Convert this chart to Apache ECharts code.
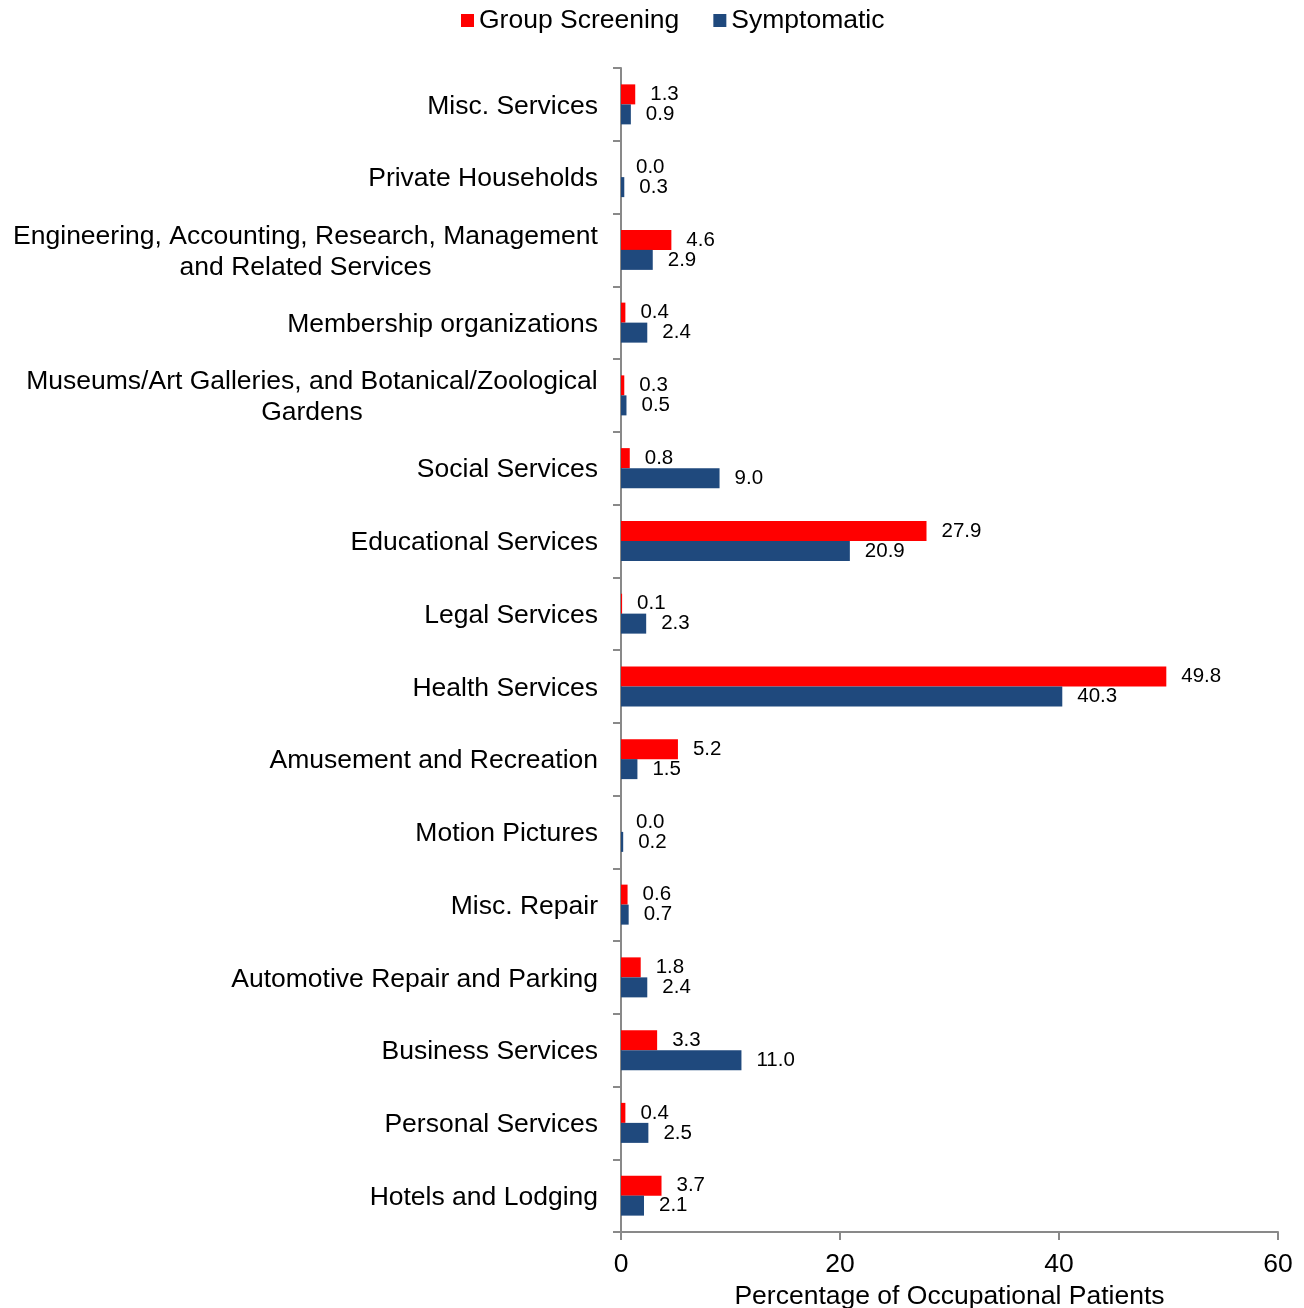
<!DOCTYPE html>
<html><head><meta charset="utf-8">
<script src="https://cdn.jsdelivr.net/npm/echarts@6/dist/echarts.min.js"></script>
<style>html,body{margin:0;padding:0;background:#fff}#c{width:1304px;height:1308px}</style>
</head><body><div id="c"></div>
<script>
// bottom to top
const categories = [
  'Hotels and Lodging',
  'Personal Services',
  'Business Services',
  'Automotive Repair and Parking',
  'Misc. Repair',
  'Motion Pictures',
  'Amusement and Recreation',
  'Health Services',
  'Legal Services',
  'Educational Services',
  'Social Services',
  'Museums/Art Galleries, and Botanical/Zoological Gardens',
  'Membership organizations',
  'Engineering, Accounting, Research, Management and Related Services',
  'Private Households',
  'Misc. Services'
];
const groupScreening = [3.7, 0.4, 3.3, 1.8, 0.6, 0.0, 5.2, 49.8, 0.1, 27.9, 0.8, 0.3, 0.4, 4.6, 0.0, 1.3];
const symptomatic    = [2.1, 2.5, 11.0, 2.4, 0.7, 0.2, 1.5, 40.3, 2.3, 20.9, 9.0, 0.5, 2.4, 2.9, 0.3, 0.9];
const xTicks = [0, 20, 40, 60];

const font = 'Liberation Sans, Arial, sans-serif';
const catSize = 26.5;
const wrapLines = {
  'Museums/Art Galleries, and Botanical/Zoological Gardens': ['Museums/Art Galleries, and Botanical/Zoological', 'Gardens'],
  'Engineering, Accounting, Research, Management and Related Services': ['Engineering, Accounting, Research, Management', 'and Related Services']
};
const ctx = document.createElement('canvas').getContext('2d');
ctx.font = catSize + 'px ' + font;
const rich = {};
const wrapped = {};
Object.keys(wrapLines).forEach((k, i) => {
  const lines = wrapLines[k];
  const w = Math.ceil(Math.max(...lines.map(l => ctx.measureText(l).width)));
  const key = 'w' + i;
  rich[key] = {width: w, align: 'center', fontSize: catSize, lineHeight: 31, fontFamily: font, color: '#000'};
  wrapped[k] = lines.map(l => '{' + key + '|' + l + '}').join('\n');
});

const chart = echarts.init(document.getElementById('c'));
const lbl = {show: true, position: 'right', distance: 15, fontSize: 20.5, color: '#000', fontFamily: font,
  formatter: p => p.value.toFixed(1)};
chart.setOption({
  animation: false,
  textStyle: {fontFamily: font},
  legend: {
    data: ['Group Screening', 'Symptomatic'],
    left: 456, top: 2, itemWidth: 13, itemHeight: 13, itemGap: 34,
    icon: 'rect',
    textStyle: {fontSize: 26.5, color: '#000', fontFamily: font, padding: [0, 0, 0, 0]}
  },
  grid: {left: 621, right: 26, top: 68, bottom: 76, containLabel: false, outerBoundsMode: 'none'},
  xAxis: {
    type: 'value', min: 0, max: 60, interval: 20,
    name: 'Percentage of Occupational Patients', nameLocation: 'middle', nameGap: 49,
    nameTextStyle: {fontSize: 26.5, color: '#000', fontFamily: font},
    axisLine: {show: true, lineStyle: {color: '#898989', width: 2}},
    axisTick: {show: true, length: 8, lineStyle: {color: '#898989', width: 2}},
    axisLabel: {fontSize: 26.5, color: '#000', margin: 19, fontFamily: font},
    splitLine: {show: false}
  },
  yAxis: {
    type: 'category', data: categories,
    axisLine: {lineStyle: {color: '#898989', width: 2}},
    axisTick: {show: true, length: 8, lineStyle: {color: '#898989', width: 2}},
    axisLabel: {
      fontSize: catSize, color: '#000', margin: 23, fontFamily: font,
      lineHeight: 31, padding: [4, 0, 0, 0],
      formatter: v => wrapped[v] || v,
      rich: rich
    }
  },
  series: [
    {name: 'Group Screening', type: 'bar', data: groupScreening, barWidth: 20, barGap: '0%',
     itemStyle: {color: '#FF0000'}, label: lbl},
    {name: 'Symptomatic', type: 'bar', data: symptomatic, barWidth: 20, barGap: '0%',
     itemStyle: {color: '#1F497D'}, label: lbl}
  ]
});
</script></body></html>
